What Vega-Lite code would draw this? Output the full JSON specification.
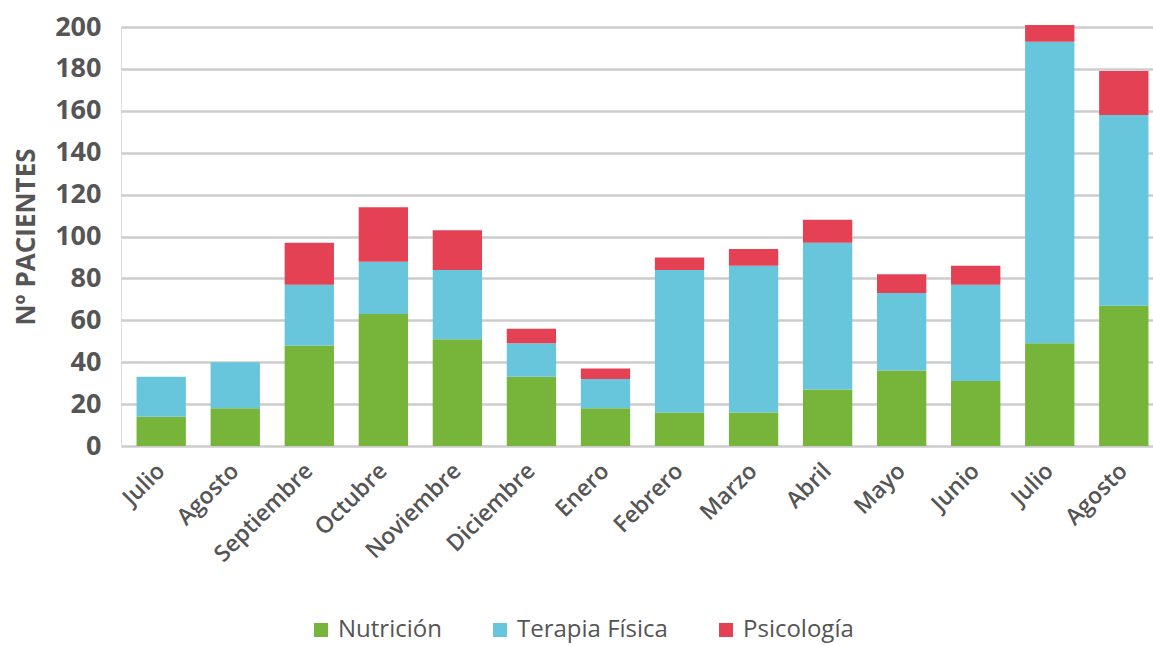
{
  "$schema": "https://vega.github.io/schema/vega-lite/v6.json",
  "autosize": {"type": "none"},
  "width": 1043,
  "height": 419,
  "padding": {"left": 121, "top": 27, "right": 0, "bottom": 200},
  "background": "white",
  "data": {
    "values": [
      {"mes": "Julio_1", "servicio": "Nutrición", "orden": 1, "pacientes": 14},
      {"mes": "Julio_1", "servicio": "Terapia Física", "orden": 2, "pacientes": 19},
      {"mes": "Julio_1", "servicio": "Psicología", "orden": 3, "pacientes": 0},
      {"mes": "Agosto_1", "servicio": "Nutrición", "orden": 1, "pacientes": 18},
      {"mes": "Agosto_1", "servicio": "Terapia Física", "orden": 2, "pacientes": 22},
      {"mes": "Agosto_1", "servicio": "Psicología", "orden": 3, "pacientes": 0},
      {"mes": "Septiembre", "servicio": "Nutrición", "orden": 1, "pacientes": 48},
      {"mes": "Septiembre", "servicio": "Terapia Física", "orden": 2, "pacientes": 29},
      {"mes": "Septiembre", "servicio": "Psicología", "orden": 3, "pacientes": 20},
      {"mes": "Octubre", "servicio": "Nutrición", "orden": 1, "pacientes": 63},
      {"mes": "Octubre", "servicio": "Terapia Física", "orden": 2, "pacientes": 25},
      {"mes": "Octubre", "servicio": "Psicología", "orden": 3, "pacientes": 26},
      {"mes": "Noviembre", "servicio": "Nutrición", "orden": 1, "pacientes": 51},
      {"mes": "Noviembre", "servicio": "Terapia Física", "orden": 2, "pacientes": 33},
      {"mes": "Noviembre", "servicio": "Psicología", "orden": 3, "pacientes": 19},
      {"mes": "Diciembre", "servicio": "Nutrición", "orden": 1, "pacientes": 33},
      {"mes": "Diciembre", "servicio": "Terapia Física", "orden": 2, "pacientes": 16},
      {"mes": "Diciembre", "servicio": "Psicología", "orden": 3, "pacientes": 7},
      {"mes": "Enero", "servicio": "Nutrición", "orden": 1, "pacientes": 18},
      {"mes": "Enero", "servicio": "Terapia Física", "orden": 2, "pacientes": 14},
      {"mes": "Enero", "servicio": "Psicología", "orden": 3, "pacientes": 5},
      {"mes": "Febrero", "servicio": "Nutrición", "orden": 1, "pacientes": 16},
      {"mes": "Febrero", "servicio": "Terapia Física", "orden": 2, "pacientes": 68},
      {"mes": "Febrero", "servicio": "Psicología", "orden": 3, "pacientes": 6},
      {"mes": "Marzo", "servicio": "Nutrición", "orden": 1, "pacientes": 16},
      {"mes": "Marzo", "servicio": "Terapia Física", "orden": 2, "pacientes": 70},
      {"mes": "Marzo", "servicio": "Psicología", "orden": 3, "pacientes": 8},
      {"mes": "Abril", "servicio": "Nutrición", "orden": 1, "pacientes": 27},
      {"mes": "Abril", "servicio": "Terapia Física", "orden": 2, "pacientes": 70},
      {"mes": "Abril", "servicio": "Psicología", "orden": 3, "pacientes": 11},
      {"mes": "Mayo", "servicio": "Nutrición", "orden": 1, "pacientes": 36},
      {"mes": "Mayo", "servicio": "Terapia Física", "orden": 2, "pacientes": 37},
      {"mes": "Mayo", "servicio": "Psicología", "orden": 3, "pacientes": 9},
      {"mes": "Junio", "servicio": "Nutrición", "orden": 1, "pacientes": 31},
      {"mes": "Junio", "servicio": "Terapia Física", "orden": 2, "pacientes": 46},
      {"mes": "Junio", "servicio": "Psicología", "orden": 3, "pacientes": 9},
      {"mes": "Julio_2", "servicio": "Nutrición", "orden": 1, "pacientes": 49},
      {"mes": "Julio_2", "servicio": "Terapia Física", "orden": 2, "pacientes": 144},
      {"mes": "Julio_2", "servicio": "Psicología", "orden": 3, "pacientes": 8},
      {"mes": "Agosto_2", "servicio": "Nutrición", "orden": 1, "pacientes": 67},
      {"mes": "Agosto_2", "servicio": "Terapia Física", "orden": 2, "pacientes": 91},
      {"mes": "Agosto_2", "servicio": "Psicología", "orden": 3, "pacientes": 21}
    ]
  },
  "mark": {"type": "bar"},
  "encoding": {
    "x": {
      "field": "mes",
      "type": "nominal",
      "sort": null,
      "scale": {"paddingInner": 0.334, "paddingOuter": 0.21},
      "axis": {
        "title": null,
        "labelExpr": "split(datum.label, '_')[0]",
        "labelAngle": -45,
        "labelAlign": "right",
        "labelBaseline": "middle",
        "labelFont": "Open Sans",
        "labelFontSize": 23,
        "labelFontWeight": 600,
        "labelColor": "#555555",
        "labelPadding": 21,
        "domain": false,
        "ticks": false,
        "grid": false
      }
    },
    "y": {
      "field": "pacientes",
      "type": "quantitative",
      "stack": "zero",
      "scale": {"domain": [0, 200], "nice": false},
      "axis": {
        "title": "Nº PACIENTES",
        "titleFont": "Open Sans",
        "titleFontSize": 26,
        "titleFontWeight": "bold",
        "titleColor": "#555555",
        "titlePadding": 15,
        "values": [0, 20, 40, 60, 80, 100, 120, 140, 160, 180, 200],
        "labelFont": "Open Sans",
        "labelFontSize": 27,
        "labelFontWeight": "bold",
        "labelColor": "#555555",
        "labelPadding": 20,
        "domain": false,
        "ticks": false,
        "grid": true,
        "gridColor": "#cccccc",
        "gridWidth": 2.5
      }
    },
    "color": {
      "field": "servicio",
      "type": "nominal",
      "scale": {
        "domain": ["Nutrición", "Terapia Física", "Psicología"],
        "range": ["#77b43a", "#68c6dc", "#e44254"]
      },
      "legend": {
        "title": null,
        "orient": "none",
        "direction": "horizontal",
        "legendX": 188,
        "legendY": 591,
        "symbolType": "square",
        "symbolSize": 196,
        "symbolStrokeWidth": 0,
        "labelFont": "Open Sans",
        "labelFontSize": 24,
        "labelColor": "#555555",
        "labelOffset": 5,
        "columnPadding": 46
      }
    },
    "order": {"field": "orden", "type": "quantitative", "sort": "ascending"}
  }
}
